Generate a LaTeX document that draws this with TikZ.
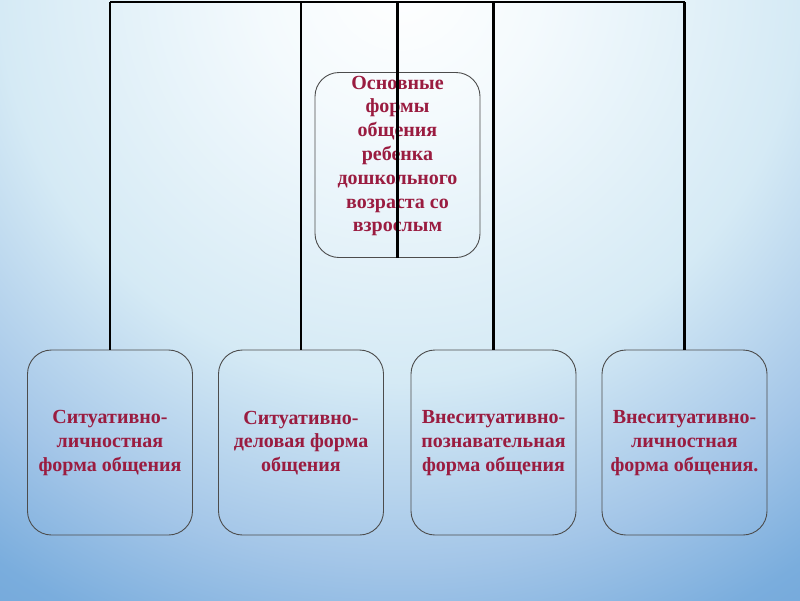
\documentclass[tikz,border=0pt]{standalone}
\usepackage{fontspec}
\setmainfont{Liberation Serif}
\definecolor{txtred}{HTML}{9A1C40}
\definecolor{bgA}{RGB}{244,250,253}
\definecolor{bgB}{RGB}{213,234,245}
\definecolor{bgC}{RGB}{164,198,232}
\definecolor{bgD}{RGB}{122,173,221}
\definecolor{bgE}{RGB}{112,165,216}
\pgfdeclareradialshading{bgshade}{\pgfpoint{0bp}{0bp}}{color(0bp)=(white); color(140bp)=(bgA); color(400bp)=(bgB); color(580bp)=(bgC); color(705bp)=(bgD); color(800bp)=(bgE)}
\tikzset{
  formbox/.style={draw=black!70, line width=0.9pt, rounded corners=24pt, minimum width=165pt, minimum height=185pt, inner sep=0pt},
  formtxt/.style={text=txtred, font=\fontsize{20}{23.8}\selectfont\bfseries, align=center, inner sep=0pt},
  link/.style={draw=black, line width=2.2pt}
}
\begin{document}
\begin{tikzpicture}[x=1pt,y=-1pt]
\useasboundingbox (0,0) rectangle (800,600);
\begin{scope}
  \clip (0,0) rectangle (800,600);
  \node[inner sep=0pt] (bg) at (400,-20) {\pgfuseshading{bgshade}};
\end{scope}
% boxes
\node[formbox] (c) at (397.5,165) {};
\node[formtxt] (ct) at (397.5,156) {Основные\\формы\\общения\\ребенка\\дошкольного\\возраста со\\взрослым};
\node[formbox] (b1) at (110,442.5) {};
\node[formtxt] (t1txt) at (110,443) {Ситуативно-\\личностная\\форма общения};
\node[formbox] (b2) at (301,442.5) {};
\node[formtxt] (t2txt) at (301,443) {Ситуативно-\\деловая форма\\общения};
\node[formbox] (b3) at (493.5,442.5) {};
\node[formtxt] (t3txt) at (493.5,443) {Внеситуативно-\\познавательная\\форма общения};
\node[formbox] (b4) at (684.5,442.5) {};
\node[formtxt] (t4txt) at (684.5,443) {Внеситуативно-\\личностная\\форма общения.};
% connectors
\coordinate (k1) at (110,2);
\coordinate (k2) at (301,2);
\coordinate (k3) at (397.5,2);
\coordinate (k4) at (493.5,2);
\coordinate (k5) at (684.5,2);
\draw[link] (k1) -- (k5);
\draw[link] (k1) -- (b1.north);
\draw[link] (k2) -- (b2.north);
\draw[link] (k3) -- (c.south);
\draw[link] (k4) -- (b3.north);
\draw[link] (k5) -- (b4.north);
\end{tikzpicture}
\end{document}
